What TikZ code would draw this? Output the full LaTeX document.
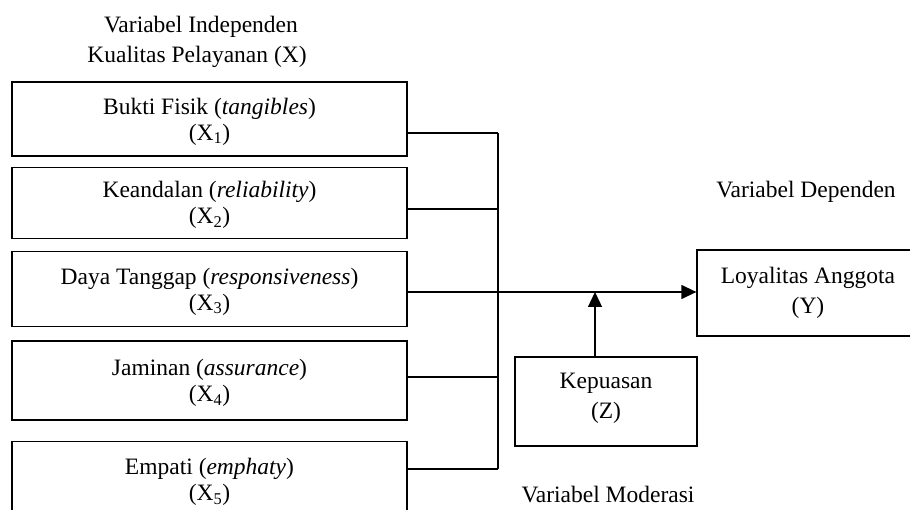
\documentclass[tikz,border=0pt]{standalone}
\usepackage{fontspec}
\setmainfont{Liberation Serif}
\usetikzlibrary{arrows.meta,positioning}

\begin{document}
\begin{tikzpicture}[x=1pt,y=-1pt,
  xbox/.style={draw,line width=1.3pt,minimum width=395pt,inner sep=0pt,
               align=center,text depth=-1pt,font=\fontsize{23.5}{26}\selectfont},
  ybox/.style={xbox,font=\fontsize{23.5}{30}\selectfont},
  lbl/.style={anchor=base,inner sep=0pt,font=\fontsize{23.5}{26}\selectfont},
  arr/.style={-{Triangle[length=15pt,width=14pt]},line width=1.3pt},
  ln/.style={line width=1.3pt}
]
  \useasboundingbox (0,0) rectangle (910,510);
  % titles
  \node[lbl] (ti) at (201,33) {Variabel Independen};
  \node[lbl] (tx) at (197,63) {Kualitas Pelayanan (X)};
  \node[lbl] (td) at (806,198) {Variabel Dependen};
  \node[lbl] (tm) at (608,502) {Variabel Moderasi};
  % independent boxes
  \node[xbox,minimum height=74pt] (b1) at (209.5,119)
    {Bukti Fisik (\textit{tangibles})\\(X\textsubscript{1})};
  \node[xbox,minimum height=71pt,below=10pt of b1] (b2)
    {Keandalan (\textit{reliability})\\(X\textsubscript{2})};
  \node[xbox,minimum height=75pt,below=12pt of b2] (b3)
    {Daya Tanggap (\textit{responsiveness})\\(X\textsubscript{3})};
  \node[xbox,minimum height=79pt,below=13pt of b3] (b4)
    {Jaminan (\textit{assurance})\\(X\textsubscript{4})};
  \node[xbox,minimum height=76pt,below=20pt of b4] (b5)
    {Empati (\textit{emphaty})\\(X\textsubscript{5})};
  % dependent and moderator
  \node[ybox,minimum width=222pt,minimum height=86pt,text depth=6pt] (y) at (808,293)
    {Loyalitas Anggota\\(Y)};
  \node[ybox,minimum width=182pt,minimum height=89pt,text depth=12pt] (z) at (606,401.5)
    {Kepuasan\\(Z)};
  % bus
  \coordinate (j1) at (498,133);
  \coordinate (j2) at (498,209);
  \coordinate (j3) at (498,292);
  \coordinate (j4) at (498,377);
  \coordinate (j5) at (498,469);
  \coordinate (m) at (595,292);
  \draw[ln] (j1) -- (j5);
  \foreach \i in {1,2,4,5}
    \draw[ln] (j\i -| b\i.east) -- (j\i);
  \draw[arr] (j3 -| b3.east) -- (j3 -| y.west);
  \draw[arr] (m |- z.north) -- (m);
\end{tikzpicture}
\end{document}
